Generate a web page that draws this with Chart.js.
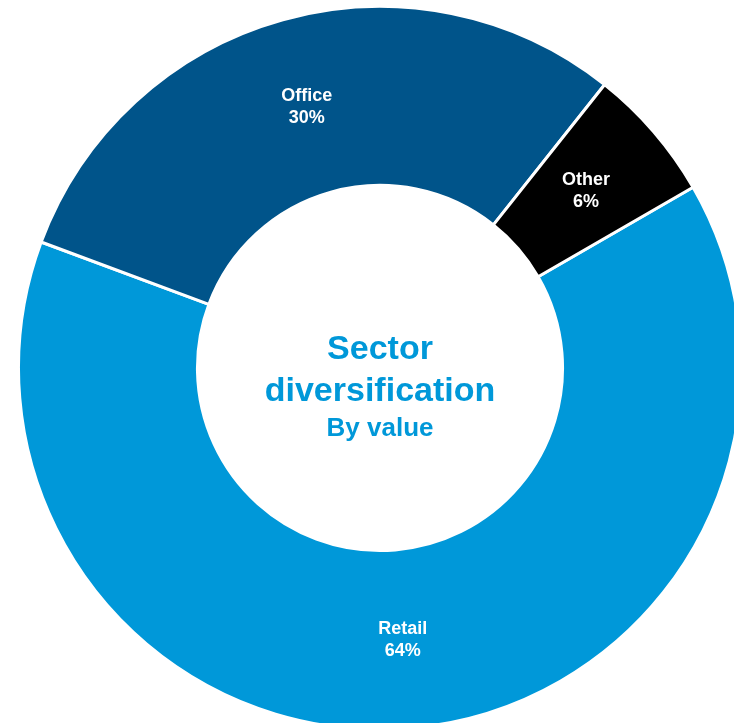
<!DOCTYPE html>
<html>
<head>
<meta charset="utf-8">
<script src="https://cdn.jsdelivr.net/npm/chart.js@4"></script>
<style>
  html, body { margin: 0; padding: 0; background: #fff; overflow: hidden; }
  body { width: 734px; height: 723px; position: relative; }
  #wrap { position: absolute; left: 17px; top: 5px; width: 726px; height: 726px; }
</style>
</head>
<body>
<div id="wrap"><canvas id="sectorChart" width="726" height="726"></canvas></div>
<script>
const sectors = ['Retail', 'Office', 'Other'];
const shares = [64, 30, 6];
const sectorColors = ['#0098d9', '#00548a', '#000000'];
const centreLines = ['Sector', 'diversification', 'By value'];

// writes "name / pct%" in the middle of each ring segment
const sliceLabels = {
  id: 'sliceLabels',
  afterDatasetsDraw(chart) {
    const ctx = chart.ctx;
    const meta = chart.getDatasetMeta(0);
    ctx.save();
    ctx.fillStyle = '#ffffff';
    ctx.textAlign = 'center';
    ctx.textBaseline = 'middle';
    ctx.font = 'bold 18px "Liberation Sans", Arial, sans-serif';
    meta.data.forEach((arc, i) => {
      const p = arc.tooltipPosition();
      ctx.fillText(sectors[i], p.x, p.y - 10);
      ctx.fillText(shares[i] + '%', p.x, p.y + 12);
    });
    ctx.restore();
  }
};

// title in the doughnut hole
const centreText = {
  id: 'centreText',
  afterDraw(chart) {
    const ctx = chart.ctx;
    const arc = chart.getDatasetMeta(0).data[0];
    const cx = arc.x, cy = arc.y;
    ctx.save();
    ctx.fillStyle = '#0098d9';
    ctx.textAlign = 'center';
    ctx.textBaseline = 'middle';
    ctx.font = 'bold 34px "Liberation Sans", Arial, sans-serif';
    ctx.fillText(centreLines[0], cx, cy - 18);
    ctx.fillText(centreLines[1], cx, cy + 24);
    ctx.font = 'bold 26px "Liberation Sans", Arial, sans-serif';
    ctx.fillText(centreLines[2], cx, cy + 61);
    ctx.restore();
  }
};

new Chart(document.getElementById('sectorChart'), {
  type: 'doughnut',
  data: {
    labels: sectors,
    datasets: [{
      data: shares,
      backgroundColor: sectorColors,
      borderColor: '#ffffff',
      borderWidth: 3
    }]
  },
  options: {
    responsive: false,
    animation: false,
    rotation: 60,
    cutout: '50.5%',
    layout: { padding: 0 },
    plugins: {
      legend: { display: false },
      tooltip: { enabled: false }
    }
  },
  plugins: [sliceLabels, centreText]
});
</script>
</body>
</html>
